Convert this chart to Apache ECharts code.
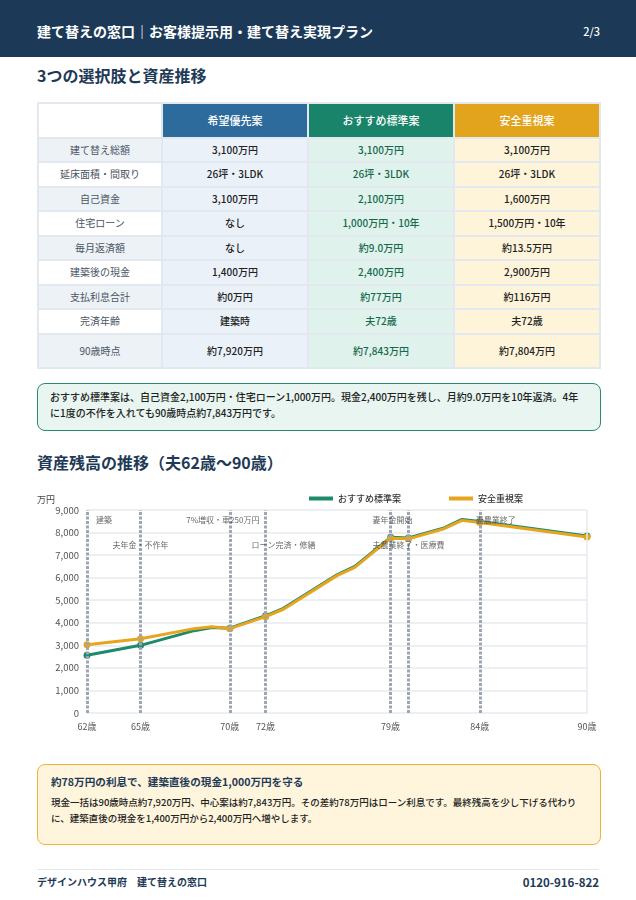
<!DOCTYPE html>
<html lang="ja">
<head>
<meta charset="utf-8">
<script src="https://cdn.jsdelivr.net/npm/echarts@6/dist/echarts.min.js"></script>
<style>
  html, body { margin: 0; padding: 0; background: #fff; }
  body { width: 636px; height: 900px; position: relative; overflow: hidden;
         font-family: "Noto Sans CJK JP", "Noto Sans", sans-serif; color: #222; }
  .topbar { position: absolute; left: 0; top: 0; width: 636px; height: 57px; background: #1c3a57; }
  .topbar .title { position: absolute; left: 37px; top: 21px; font-size: 14px; font-weight: 700; color: #fff; line-height: 20px; }
  .topbar .page { position: absolute; right: 36px; top: 22px; font-size: 11px; font-weight: 500; color: #fff; line-height: 18px; }
  h2 { position: absolute; left: 37px; margin: 0; font-size: 16px; font-weight: 700; color: #1e3a56; line-height: 22px; }
  table { position: absolute; left: 37px; top: 102px; width: 562px; border-collapse: collapse; table-layout: fixed; }
  td, th { border: 2px solid #e3e8ee; text-align: center; font-size: 10px; padding: 0; height: 22.5px; line-height: 14px; }
  th { height: 32.5px; font-size: 11px; font-weight: 500; color: #fff; }
  th.blank { background: #fff; }
  th.p1 { background: #2d6b9c; } th.p2 { background: #1a846a; } th.p3 { background: #e2a41c; }
  td.lab { color: #4b5563; font-weight: 400; }
  td.lab.alt { background: #edf2f7; } td.lab.plain { background: #fff; }
  td.c1 { background: #ebf1f8; color: #222; font-weight: 500; }
  td.c2 { background: #dff2eb; color: #17684f; font-weight: 500; }
  td.c3 { background: #fef4da; color: #222; font-weight: 500; }
  tr.last td { height: 32px; }
  .callout { position: absolute; left: 37px; top: 383px; width: 538px; height: 46px; box-sizing: content-box;
             padding: 0 12px; border: 1.5px solid #2a8a6c; border-radius: 8px; background: #e8f5f0; }
  .callout p { margin: 5px 0 0 0; font-size: 10px; font-weight: 500; line-height: 16px; color: #222; }
  #chart { position: absolute; left: 0; top: 480px; width: 636px; height: 270px; }
  .note { position: absolute; left: 37px; top: 764px; width: 536px; height: 79px; padding: 0 13px;
          border: 1.5px solid #eeb43a; border-radius: 8px; background: #fef5dc; }
  .note .nt { margin: 8px 0 0 0; font-size: 10.6px; font-weight: 700; color: #1e3a56; line-height: 18px; }
  .note .nb { margin: 3px 0 0 0; font-size: 9.5px; font-weight: 500; color: #222; line-height: 16px; }
  .footline { position: absolute; left: 37px; top: 869px; width: 562px; height: 1px; background: #e3e6ea; }
  .foot { position: absolute; top: 874px; font-size: 10px; font-weight: 700; color: #1e3a56; line-height: 16px; }
  .foot.r { right: 37px; font-size: 11.5px; }
</style>
</head>
<body>
<div class="topbar">
  <div class="title">建て替えの窓口｜お客様提示用・建て替え実現プラン</div>
  <div class="page">2/3</div>
</div>
<h2 style="top:64px">3つの選択肢と資産推移</h2>
<table id="tbl"></table>
<div class="callout"><p>おすすめ標準案は、自己資金2,100万円・住宅ローン1,000万円。現金2,400万円を残し、月約9.0万円を10年返済。4年に1度の不作を入れても90歳時点約7,843万円です。</p></div>
<h2 style="top:451px">資産残高の推移（夫62歳〜90歳）</h2>
<div id="chart"></div>
<div class="note">
  <p class="nt">約78万円の利息で、建築直後の現金1,000万円を守る</p>
  <p class="nb">現金一括は90歳時点約7,920万円、中心案は約7,843万円。その差約78万円はローン利息です。最終残高を少し下げる代わりに、建築直後の現金を1,400万円から2,400万円へ増やします。</p>
</div>
<div class="footline"></div>
<div class="foot" style="left:37px">デザインハウス甲府　建て替えの窓口</div>
<div class="foot r">0120-916-822</div>

<script>
// ---- table data ----
const planNames = ['希望優先案', 'おすすめ標準案', '安全重視案'];
const rowLabels = ['建て替え総額', '延床面積・間取り', '自己資金', '住宅ローン', '毎月返済額', '建築後の現金', '支払利息合計', '完済年齢', '90歳時点'];
const planHope = ['3,100万円', '26坪・3LDK', '3,100万円', 'なし', 'なし', '1,400万円', '約0万円', '建築時', '約7,920万円'];
const planStandard = ['3,100万円', '26坪・3LDK', '2,100万円', '1,000万円・10年', '約9.0万円', '2,400万円', '約77万円', '夫72歳', '約7,843万円'];
const planSafe = ['3,100万円', '26坪・3LDK', '1,600万円', '1,500万円・10年', '約13.5万円', '2,900万円', '約116万円', '夫72歳', '約7,804万円'];

// ---- chart data ----
const seriesNames = ['おすすめ標準案', '安全重視案'];
const ages = [62, 65, 68, 69, 70, 72, 73, 76, 77, 79, 80, 82, 83, 84, 90];
const standardPlan = [2560, 3000, 3650, 3790, 3760, 4310, 4640, 6130, 6500, 7790, 7760, 8210, 8580, 8490, 7843];
const safePlan = [3030, 3290, 3740, 3820, 3740, 4270, 4600, 6090, 6460, 7750, 7720, 8170, 8540, 8450, 7804];
const tickAges = [62, 65, 70, 72, 79, 84, 90];
const eventAges = [62, 65, 70, 72, 79, 80, 84];
const eventLabels = ['建築', '夫年金・不作年', '7%増収・車250万円', 'ローン完済・修繕', '妻年金開始', '夫農業終了・医療費', '妻農業終了'];
const yMin = 0, yMax = 9000, yStep = 1000;

// build table
(function () {
  const t = document.getElementById('tbl');
  let html = '<colgroup><col style="width:124px"><col style="width:146px"><col style="width:146px"><col style="width:146px"></colgroup>';
  html += '<tr><th class="blank"></th><th class="p1">' + planNames[0] + '</th><th class="p2">' + planNames[1] + '</th><th class="p3">' + planNames[2] + '</th></tr>';
  rowLabels.forEach(function (lab, i) {
    const cls = (i % 2 === 0) ? 'alt' : 'plain';
    html += '<tr' + (i === rowLabels.length - 1 ? ' class="last"' : '') + '><td class="lab ' + cls + '">' + lab + '</td><td class="c1">' + planHope[i] +
      '</td><td class="c2">' + planStandard[i] + '</td><td class="c3">' + planSafe[i] + '</td></tr>';
  });
  t.innerHTML = html;
})();

// chart
const chart = echarts.init(document.getElementById('chart'), null, { renderer: 'canvas' });
const markedAges = eventAges.concat([90]);
const symSize = function (v) { return markedAges.indexOf(v[0]) >= 0 ? 7 : 0; };
const labelRow = [0, 1, 0, 1, 0, 1, 0];
const labelDx = [17, 0, -7, 18, 2, 0, 16];
const green = '#1d8a6b', amber = '#e7a51d';

chart.setOption({
  animation: false,
  textStyle: { fontFamily: '"Noto Sans CJK JP", "Noto Sans", sans-serif' },
  legend: {
    data: seriesNames,
    top: 9, right: 108,
    itemWidth: 24, itemHeight: 4, itemGap: 48,
    icon: 'rect',
    textStyle: { fontSize: 9, color: '#333', fontWeight: 500 }
  },
  grid: { left: 87, right: 49, top: 30, bottom: 37 },
  xAxis: {
    type: 'value', min: 62, max: 90, interval: 1,
    axisLine: { show: false },
    axisTick: { show: false, customValues: tickAges },
    axisLabel: { customValues: tickAges, formatter: function (v) { return v + '歳'; }, fontSize: 9, color: '#555', margin: 9 },
    splitLine: { show: false }
  },
  yAxis: {
    type: 'value', min: yMin, max: yMax, interval: yStep,
    name: '万円', nameLocation: 'end', nameGap: 6,
    nameTextStyle: { fontSize: 9, color: '#444', align: 'right', padding: [0, 32, 0, 0] },
    axisLine: { show: false }, axisTick: { show: false },
    axisLabel: { fontSize: 9.5, color: '#555', margin: 8, formatter: function (v) { return v.toLocaleString('en-US'); } },
    splitLine: { lineStyle: { color: '#e6eaf0', width: 1.5 } }
  },
  series: [
    {
      name: seriesNames[0], type: 'line',
      data: ages.map(function (a, i) { return [a, standardPlan[i]]; }),
      color: green,
      lineStyle: { width: 3, color: green },
      itemStyle: { color: green },
      symbol: 'circle', symbolSize: symSize, showAllSymbol: true,
      z: 3,
      markLine: {
        silent: true, symbol: 'none', animation: false,
        label: { show: false },
        lineStyle: { color: '#9ea6b1', width: 3, type: [3, 1.5] },
        data: eventAges.map(function (a) { return { xAxis: a }; }).concat([{ xAxis: 90, lineStyle: { color: '#e6eaf0', width: 1.5, type: 'solid' } }])
      }
    },
    {
      name: seriesNames[1], type: 'line',
      data: ages.map(function (a, i) { return [a, safePlan[i]]; }),
      color: amber,
      lineStyle: { width: 3, color: amber },
      itemStyle: { color: amber },
      symbol: 'circle', symbolSize: symSize, showAllSymbol: true,
      z: 4
    },
    {
      name: 'events', type: 'scatter', silent: true, z: 6,
      symbolSize: 0,
      data: eventAges.map(function (a, i) {
        return {
          value: [a, yMax], name: eventLabels[i],
          label: { offset: [labelDx[i], labelRow[i] ? 35 : 10] }
        };
      }),
      label: { show: true, position: 'inside', formatter: '{b}', fontSize: 8, color: '#444' }
    }
  ]
});
</script>
</body>
</html>
